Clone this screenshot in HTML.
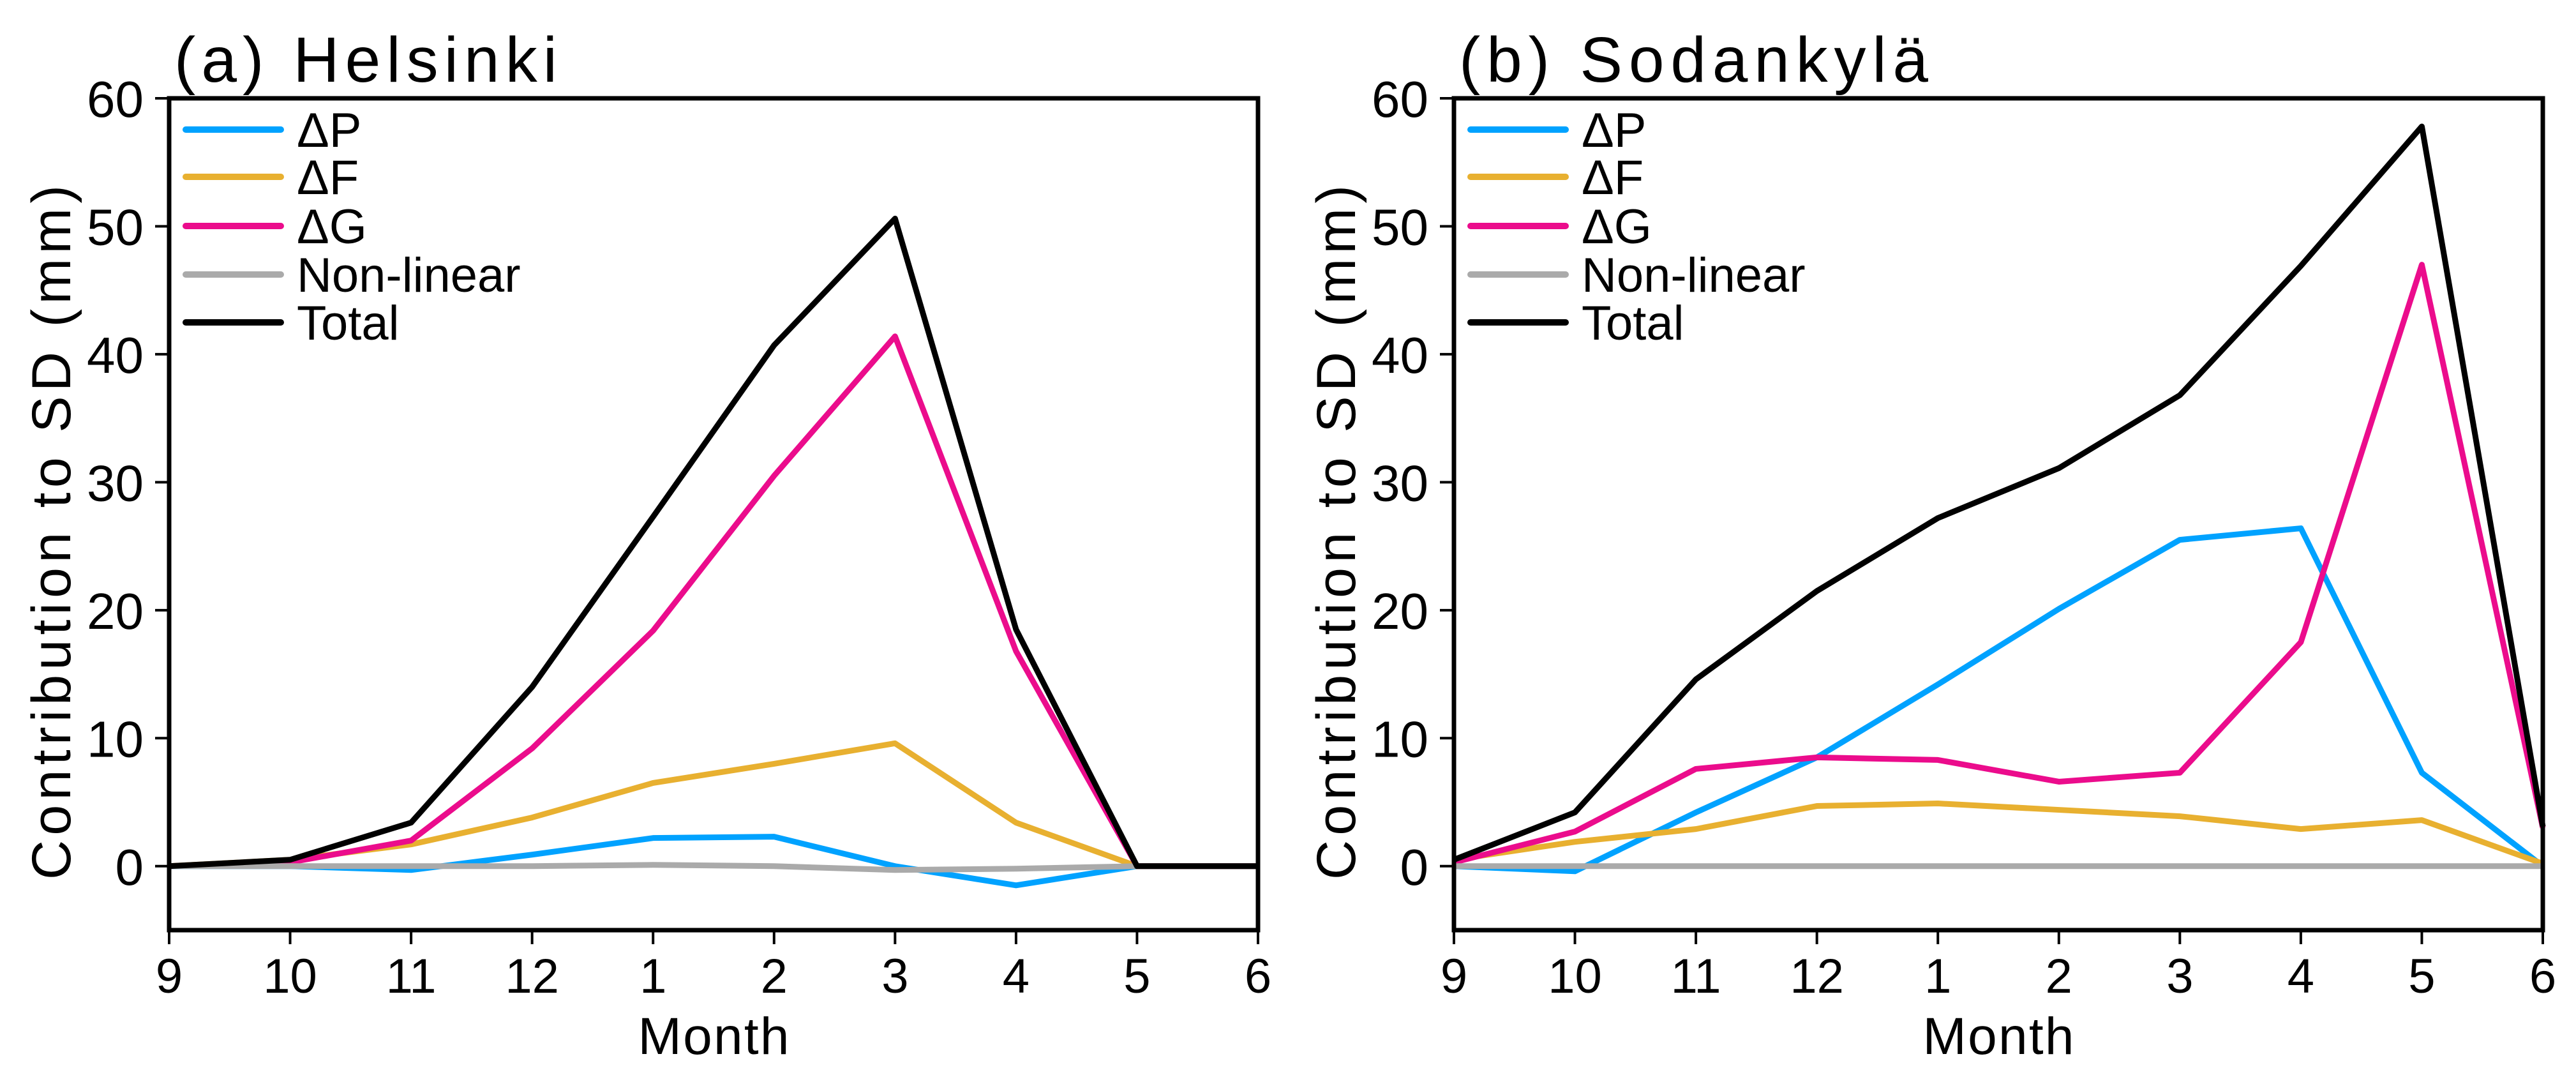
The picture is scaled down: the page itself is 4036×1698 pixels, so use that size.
<!DOCTYPE html>
<html><head><meta charset="utf-8">
<style>
html,body{margin:0;padding:0;background:#fff;}
svg{display:block;}
text{font-family:"Liberation Sans",sans-serif;fill:#000;}
</style></head>
<body>
<svg id="fig" width="4036" height="1698" viewBox="0 0 4036 1698" xmlns="http://www.w3.org/2000/svg"></svg>
<script>
const months = ["9","10","11","12","1","2","3","4","5","6"];
const yTicks = [0,10,20,30,40,50,60];
const seriesNames = ["ΔP","ΔF","ΔG","Non-linear","Total"];
const seriesColors = ["#00a2ff","#e8b030","#eb0c8c","#aaaaaa","#000000"];
const helP  = [0,0,-0.3,0.9,2.2,2.3,0,-1.5,0,0];
const helF  = [0,0.5,1.7,3.8,6.5,8,9.6,3.4,0,0];
const helG  = [0,0.3,2,9.2,18.4,30.5,41.4,16.8,0,0];
const helNL = [0,0,0,0,0.1,0,-0.3,-0.2,0,0];
const helT  = [0,0.5,3.4,14,27.3,40.7,50.6,18.5,0,0];
const sodP  = [0,-0.4,4.2,8.5,14.2,20.1,25.5,26.4,7.3,0];
const sodF  = [0.5,1.9,2.9,4.7,4.9,4.4,3.9,2.9,3.6,0.2];
const sodG  = [0.3,2.7,7.6,8.5,8.3,6.6,7.3,17.5,47,3];
const sodNL = [0,0,0,0,0,0,0,0,0,0];
const sodT  = [0.5,4.2,14.6,21.5,27.2,31.1,36.8,46.9,57.8,3.1];

const NS="http://www.w3.org/2000/svg";
const svg=document.getElementById('fig');
function mk(tag,attrs,parent,txt){const e=document.createElementNS(NS,tag);for(const k in attrs)e.setAttribute(k,attrs[k]);if(txt!==undefined)e.textContent=txt;(parent||svg).appendChild(e);return e;}

function panel(ox,title,titleLen,data,key){
  const L=ox,R=ox+1706,T=154,B=1457,ymin=-5,ymax=60;
  const g=mk('g',{});
  
  
  const X=i=>L+(R-L)*i/(months.length-1);
  const Y=v=>B-(B-T)*(v-ymin)/(ymax-ymin);
  const t=mk('text',{x:L+8,y:128,'font-size':100,textLength:titleLen,lengthAdjust:'spacing'},g,title);
  
  
  data.forEach((arr,si)=>{
    const p=mk('polyline',{points:arr.map((v,i)=>X(i)+','+Y(v)).join(' '),fill:'none',stroke:seriesColors[si],'stroke-width':9,'stroke-linejoin':'round'},g);
    
    
  });
  const f=mk('rect',{x:L,y:T,width:R-L,height:B-T,fill:'none',stroke:'#000','stroke-width':7},g);
  
  
  yTicks.forEach(v=>{
    mk('line',{x1:L-22,x2:L,y1:Y(v),y2:Y(v),stroke:'#000','stroke-width':4},g);
    const tl=mk('text',{x:L-40,y:Y(v)+29,'font-size':80,'text-anchor':'end'},g,String(v));
    
    
  });
  months.forEach((m,i)=>{
    mk('line',{x1:X(i),x2:X(i),y1:B,y2:B+22,stroke:'#000','stroke-width':4},g);
    const tl=mk('text',{x:X(i),y:1555,'font-size':76,'text-anchor':'middle'},g,m);
    
    
  });
  const xt=mk('text',{x:L+853,y:1651,'font-size':82,'text-anchor':'middle',textLength:237,lengthAdjust:'spacing'},g,'Month');
  
  
  const yt=mk('text',{x:0,y:0,'font-size':86,'text-anchor':'middle',transform:'translate('+(L-155)+',834) rotate(-90)',textLength:1088,lengthAdjust:'spacing'},g,'Contribution to SD (mm)');
  
  
  const lg=mk('g',{},g);
  
  
  const rows=[203,277,354,430,505];
  seriesNames.forEach((n,si)=>{
    mk('line',{x1:L+26,x2:L+175,y1:rows[si],y2:rows[si],stroke:seriesColors[si],'stroke-width':10,'stroke-linecap':'round'},lg);
    const tx=mk('text',{x:L+200,y:rows[si]+27,'font-size':76},lg,n);
    
    
  });
}
panel(265,'(a)  Helsinki',600,[helP,helF,helG,helNL,helT],'helsinki');
panel(2278,'(b)  Sodankylä',735,[sodP,sodF,sodG,sodNL,sodT],'sodankyla');
</script>
</body></html>
